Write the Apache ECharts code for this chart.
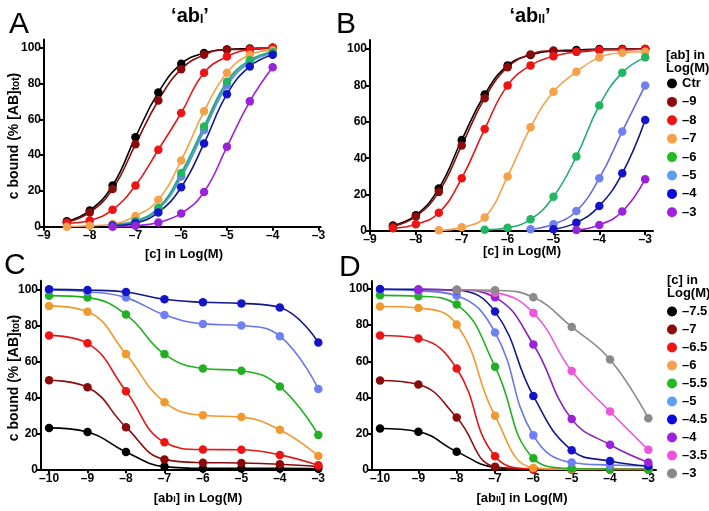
<!DOCTYPE html>
<html><head><meta charset="utf-8">
<script src="https://cdn.jsdelivr.net/npm/echarts@6/dist/echarts.min.js"></script>
<style>html,body{margin:0;padding:0;background:#fff}#c{width:709px;height:511px}</style>
</head><body><div id="c"></div>
<script>
// ---------- DATA ----------
const xTicksAB = [-9,-8,-7,-6,-5,-4,-3];
const xTicksCD = [-10,-9,-8,-7,-6,-5,-4,-3];
const yTicks = [0,20,40,60,80,100];

const xA = [-8.5,-8,-7.5,-7,-6.5,-6,-5.5,-5,-4.5,-4];
const A_ctr = [3,9,23,50,75,91,97,99,99.5,100];
const A_m9  = [2.5,8,21,46,70.5,88,96,99,99,100];
const A_m8  = [2,3.5,9.5,23,43,63.5,86,95,99,100];
const A_m7  = [0,0.5,1.5,6,15,37,64.5,86,96,98.5];
const A_m6  = [null,null,1,3,10.5,30,56,81,93,97.5];
const A_m5  = [null,null,1,3,10,28,54,79,92,97];
const A_m4  = [null,null,0.5,2,8,22,46.5,74,89.5,96];
const A_m3  = [null,null,0,0.5,2.4,7.4,19.4,44.6,70,89];

const xB = [-8.5,-8,-7.5,-7,-6.5,-6,-5.5,-5,-4.5,-4,-3.5,-3];
const B_ctr = [3,8.7,23.4,50,75,91,96.7,99,99.4,100,100,100];
const B_m9  = [2.5,8,21.5,47,73,90,97,99,98.5,99.5,100,100];
const B_m8  = [1.5,3.7,10,29,56,80,91,96,98.5,99.5,99.5,100];
const B_m7  = [null,null,0.4,2,7.4,30,57,76.5,87.5,95.4,98,98.5];
const B_m6  = [null,null,null,null,0.7,1.8,6.4,18.8,41,69,87,95.4];
const B_m5  = [null,null,null,null,null,null,1,3.7,11,29,54.7,80];
const B_m4  = [null,null,null,null,null,null,null,1,4.6,13.8,31.7,61];
const B_m3  = [null,null,null,null,null,null,null,null,0.5,3.3,10.7,28.5];

const xCD = [-10,-9,-8,-7,-6,-5,-4,-3];
const C_m75 = [23,20.7,9.6,1.5,0.5,0.5,0.5,0.3];
const C_m7  = [49.5,45.6,23.4,5.5,3.7,3.5,2.8,1.5];
const C_m65 = [74.4,70,43.4,15,11,10.9,8,2.2];
const C_m6  = [90.8,87.6,64,37.3,30,29,22,7.4];
const C_m55 = [96.5,95.4,86,64,56,54.8,46,19];
const C_m5  = [99.6,98.7,95.4,85.8,80.8,79.9,74,44.6];
const C_m45 = [100,99.6,98.5,94.5,92.8,92.2,89.9,70.5];

const D_m75 = [22.8,21,10,1.3,0.2,0.1,0.1,0.1];
const D_m7  = [49.4,47.2,28.9,1.6,0.3,0.1,0.1,0.1];
const D_m65 = [74.3,72.6,56,7.4,0.4,0.1,0.1,0.1];
const D_m6  = [90.3,89.5,80.3,29.8,1,0.2,0.1,0.1];
const D_m55 = [96.5,96,91.4,57,6.3,0.7,0.3,0.2];
const D_m5  = [99.6,99,96.3,76,19,4,2.6,2.2];
const D_m45 = [100,99.8,99.3,87.5,40.8,10.8,4.8,2];
const D_m4  = [null,99.8,99.5,95.4,69.3,28,13.8,4];
const D_m35 = [null,null,99.6,98,86.8,54.6,32.2,11];
const D_m3  = [null,null,99.6,99.3,95.4,79,61,28.5];

const namesAB = ['Ctr','–9','–8','–7','–6','–5','–4','–3'];
const namesCD = ['–7.5','–7','–6.5','–6','–5.5','–5','–4.5','–4','–3.5','–3'];

// ---------- STYLE ----------
const FONT = 'Liberation Sans, Arial, Helvetica, sans-serif';
const colAB = {
  'Ctr':['#000000','#000000'], '–9':['#8c0a0a','#8c0a0a'], '–8':['#ee1414','#e01818'],
  '–7':['#f5a04a','#f5a04a'], '–6':['#22b660','#1faa78'], '–5':['#6f80f0','#5a9ad8'],
  '–4':['#1414c8','#10188c'], '–3':['#9a22d8','#9a22d8']
};
const legAB = ['#000000','#8c0a0a','#ee1414','#f5a04a','#22bb22','#5aa0ee','#0a0ae0','#a020e0'];
const colCD = {
  '–7.5':['#000000','#000000'], '–7':['#8c0a0a','#8c0a0a'], '–6.5':['#ee1414','#e01818'],
  '–6':['#f3982e','#f3982e'], '–5.5':['#22b022','#22b022'], '–5':['#6f80f5','#6677ee'],
  '–4.5':['#1414c8','#10188c'], '–4':['#9a22d8','#8a22c0'], '–3.5':['#ee55dd','#ee55dd'],
  '–3':['#8a8a8a','#8a8a8a']
};
const legCD = ['#000000','#8c0a0a','#ee1414','#f5a04a','#22bb22','#5aa0ee','#0a0ae0','#a020e0','#f050e0','#888888'];

const SUFFIX = ' ';
function mk(name, key, xs, ys, gi, cols, lw) {
  const data = [];
  xs.forEach((x,i)=>{ if (ys[i] !== null) data.push([x, ys[i]]); });
  return {
    type:'line', name:name, xAxisIndex:gi, yAxisIndex:gi, data:data,
    smooth:0.45, symbol:'circle', symbolSize:8.5, showSymbol:true,
    itemStyle:{color:cols[key][0]}, lineStyle:{color:cols[key][1], width:lw||1.6},
    emphasis:{disabled:true}, z:2, animation:false
  };
}

const series = [
  mk('Ctr','Ctr',xA,A_ctr,0,colAB), mk('–9','–9',xA,A_m9,0,colAB), mk('–8','–8',xA,A_m8,0,colAB),
  mk('–7','–7',xA,A_m7,0,colAB), mk('–5','–5',xA,A_m5,0,colAB,2.6), mk('–6','–6',xA,A_m6,0,colAB),
  mk('–4','–4',xA,A_m4,0,colAB), mk('–3','–3',xA,A_m3,0,colAB),
  mk('Ctr','Ctr',xB,B_ctr,1,colAB), mk('–9','–9',xB,B_m9,1,colAB), mk('–8','–8',xB,B_m8,1,colAB),
  mk('–7','–7',xB,B_m7,1,colAB), mk('–6','–6',xB,B_m6,1,colAB),
  mk('–5','–5',xB,B_m5,1,{'–5':['#6f80f0','#6a6ae0']}), mk('–4','–4',xB,B_m4,1,colAB), mk('–3','–3',xB,B_m3,1,colAB),
  mk('–7.5'+SUFFIX,'–7.5',xCD,C_m75,2,colCD), mk('–7'+SUFFIX,'–7',xCD,C_m7,2,colCD),
  mk('–6.5'+SUFFIX,'–6.5',xCD,C_m65,2,colCD), mk('–6'+SUFFIX,'–6',xCD,C_m6,2,colCD),
  mk('–5.5'+SUFFIX,'–5.5',xCD,C_m55,2,colCD), mk('–5'+SUFFIX,'–5',xCD,C_m5,2,colCD),
  mk('–4.5'+SUFFIX,'–4.5',xCD,C_m45,2,colCD),
  mk('–7.5'+SUFFIX,'–7.5',xCD,D_m75,3,colCD), mk('–7'+SUFFIX,'–7',xCD,D_m7,3,colCD),
  mk('–6.5'+SUFFIX,'–6.5',xCD,D_m65,3,colCD), mk('–6'+SUFFIX,'–6',xCD,D_m6,3,colCD),
  mk('–5.5'+SUFFIX,'–5.5',xCD,D_m55,3,colCD), mk('–5'+SUFFIX,'–5',xCD,D_m5,3,colCD),
  mk('–4.5'+SUFFIX,'–4.5',xCD,D_m45,3,colCD), mk('–4'+SUFFIX,'–4',xCD,D_m4,3,colCD),
  mk('–3.5'+SUFFIX,'–3.5',xCD,D_m35,3,colCD), mk('–3'+SUFFIX,'–3',xCD,D_m3,3,colCD)
];

const lbl = {fontFamily:FONT, fontWeight:'bold', fontSize:12, color:'#000'};
function fmt(v){ return v < 0 ? '–' + Math.abs(v) : String(v); }
function xAx(gi, min, max, ticks){
  return {type:'value', gridIndex:gi, min:min, max:max,
    axisLine:{onZero:false, lineStyle:{color:'#000', width:2}},
    axisTick:{customValues:ticks, length:4, lineStyle:{color:'#000', width:2}},
    axisLabel:Object.assign({customValues:ticks, formatter:fmt, margin:3}, lbl),
    splitLine:{show:false}};
}
function yAx(gi, max){
  return {type:'value', gridIndex:gi, min:0, max:max,
    axisLine:{onZero:false, lineStyle:{color:'#000', width:2}},
    axisTick:{customValues:yTicks, length:4, lineStyle:{color:'#000', width:2}},
    axisLabel:Object.assign({customValues:yTicks, margin:3}, lbl),
    splitLine:{show:false}};
}

const sub = {fontFamily:FONT, fontWeight:'bold', fontSize:12, padding:[8,0,0,0]};
function txt(x,y,text,size,extra){
  return {type:'text', x:x, y:y, style:Object.assign({text:text, fontFamily:FONT, fontSize:size, fontWeight:'bold', fill:'#000', align:'center', verticalAlign:'middle'}, extra||{})};
}
const legendText = {fontFamily:FONT, fontWeight:'bold', fontSize:13, color:'#000', lineHeight:12};
const subSmall = {fontFamily:FONT, fontWeight:'bold', fontSize:9, padding:[4,0,0,0]};
const subTot = {fontFamily:FONT, fontWeight:'bold', fontSize:10, padding:[4,0,0,0]};

const option = {
  animation:false,
  grid:[
    {left:44, top:39.6, width:276.7, height:187.1},
    {left:370, top:39.9, width:283, height:191.1},
    {left:41, top:280.7, width:280, height:188.6},
    {left:372, top:280.9, width:284, height:188.8}
  ],
  xAxis:[ xAx(0,-9,-2.95,xTicksAB), xAx(1,-9,-2.83,xTicksAB), xAx(2,-10.21,-2.93,xTicksCD), xAx(3,-10.21,-2.8,xTicksCD) ],
  yAxis:[ yAx(0,104.5), yAx(1,105), yAx(2,104.8), yAx(3,104.5) ],
  legend:[
    {data:namesAB.map((n,i)=>({name:n, itemStyle:{color:legAB[i]}})), orient:'vertical', left:667, top:77,
     itemWidth:10, itemHeight:10, itemGap:5.4, icon:'circle', textStyle:legendText, selectedMode:false, padding:0},
    {data:namesCD.map((n,i)=>({name:n+SUFFIX, itemStyle:{color:legCD[i]}})), orient:'vertical', left:667, top:305,
     itemWidth:10, itemHeight:10, itemGap:5, icon:'circle', textStyle:legendText, selectedMode:false, padding:0,
     formatter:function(n){ return n.trim(); }}
  ],
  graphic:[
    txt(190,16,'‘ab{s|I}’',20,{rich:{s:sub}}),
    txt(530,16,'‘ab{s|II}’',20,{rich:{s:sub}}),
    {type:'text', left:9, top:10, style:{text:'A', fontFamily:FONT, fontSize:30, fill:'#000'}},
    {type:'text', left:336, top:10, style:{text:'B', fontFamily:FONT, fontSize:30, fill:'#000'}},
    {type:'text', left:4, top:251, style:{text:'C', fontFamily:FONT, fontSize:30, fill:'#000'}},
    {type:'text', left:339, top:253, style:{text:'D', fontFamily:FONT, fontSize:30, fill:'#000'}},
    Object.assign(txt(14,136,'c bound (% [AB]{s|tot})',14,{rich:{s:subTot}}), {rotation:Math.PI/2}),
    Object.assign(txt(14,378,'c bound (% [AB]{s|tot})',14,{rich:{s:subTot}}), {rotation:Math.PI/2}),
    txt(184,254,'[c] in Log(M)',13),
    txt(522,251,'[c] in Log(M)',13),
    txt(198,498,'[ab{s|I}] in Log(M)',13,{rich:{s:subSmall}}),
    txt(522,498,'[ab{s|II}] in Log(M)',13,{rich:{s:subSmall}}),
    {type:'text', left:666, top:49, style:{text:'[ab] in\nLog(M)', fontFamily:FONT, fontSize:13, fontWeight:'bold', fill:'#000', lineHeight:13}},
    {type:'text', left:667, top:274, style:{text:'[c] in\nLog(M)', fontFamily:FONT, fontSize:13, fontWeight:'bold', fill:'#000', lineHeight:13}}
  ],
  series:series
};
const chart = echarts.init(document.getElementById('c'), null, {renderer:'canvas'});
chart.setOption(option);
</script>
</body></html>
